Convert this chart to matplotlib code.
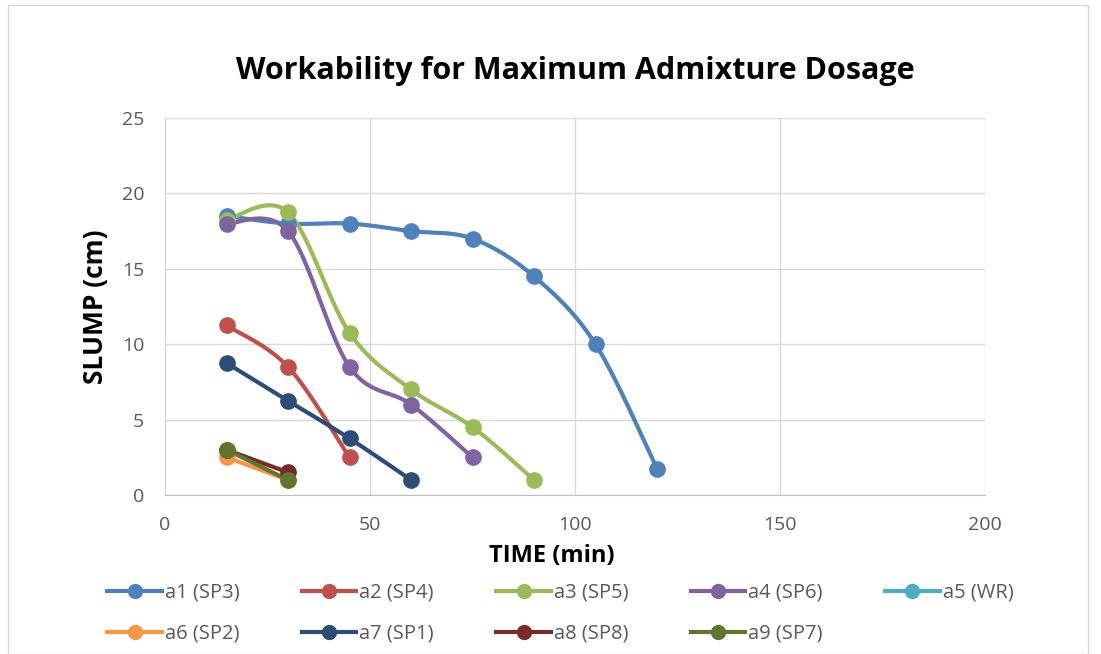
import numpy as np
import matplotlib
matplotlib.use('Agg')
import matplotlib.pyplot as plt
from matplotlib.patches import Rectangle

plt.rcParams['font.family'] = ['Open Sans', 'DejaVu Sans']

labels = ['a1 (SP3)', 'a2 (SP4)', 'a3 (SP5)', 'a4 (SP6)', 'a5 (WR)',
          'a6 (SP2)', 'a7 (SP1)', 'a8 (SP8)', 'a9 (SP7)']
colors = ['#4F81BD', '#C0504D', '#9BBB59', '#8064A2', '#4BACC6',
          '#F79646', '#2C4D75', '#772C2A', '#5F7530']

a1_t = [15, 30, 45, 60, 75, 90, 105, 120]
a1_s = [18.5, 18, 18, 17.5, 17, 14.5, 10, 1.75]
a2_t = [15, 30, 45]
a2_s = [11.25, 8.5, 2.5]
a3_t = [15, 30, 45, 60, 75, 90]
a3_s = [18.25, 18.75, 10.75, 7, 4.5, 1]
a4_t = [15, 30, 45, 60, 75]
a4_s = [18, 17.5, 8.5, 6, 2.5]
a5_t = []
a5_s = []
a6_t = [15, 30]
a6_s = [2.5, 1]
a7_t = [15, 30, 45, 60]
a7_s = [8.75, 6.25, 3.75, 1]
a8_t = [15, 30]
a8_s = [3, 1.5]
a9_t = [15, 30]
a9_s = [3, 1]

series = [(a1_t, a1_s), (a2_t, a2_s), (a3_t, a3_s), (a4_t, a4_s), (a5_t, a5_s),
          (a6_t, a6_s), (a7_t, a7_s), (a8_t, a8_s), (a9_t, a9_s)]


# Excel-like smoothed line (Catmull-Rom style bezier)
def smooth(x, y, n=30):
    x = np.asarray(x, float)
    y = np.asarray(y, float)
    if len(x) < 3:
        return x, y
    px = np.concatenate([[x[0]], x, [x[-1]]])
    py = np.concatenate([[y[0]], y, [y[-1]]])
    xs, ys = [], []
    t = np.linspace(0, 1, n)
    for i in range(1, len(px) - 2):
        p0 = np.array([px[i], py[i]])
        p3 = np.array([px[i + 1], py[i + 1]])
        p1 = p0 + (np.array([px[i + 1], py[i + 1]]) - np.array([px[i - 1], py[i - 1]])) / 6
        p2 = p3 - (np.array([px[i + 2], py[i + 2]]) - np.array([px[i], py[i]])) / 6
        b = ((1 - t) ** 3)[:, None] * p0 + (3 * (1 - t) ** 2 * t)[:, None] * p1 \
            + (3 * (1 - t) * t ** 2)[:, None] * p2 + (t ** 3)[:, None] * p3
        xs.extend(b[:, 0])
        ys.extend(b[:, 1])
    return np.array(xs), np.array(ys)


fig = plt.figure(figsize=(11.01, 6.54), dpi=100)
ax = fig.add_axes([165 / 1101, 1 - 495 / 654, 820 / 1101, 377 / 654])

handles = []
for (t, s), lab, c in zip(series, labels, colors):
    sx, sy = smooth(t, s)
    ax.plot(sx, sy, color=c, lw=3, solid_capstyle='round', zorder=3)
    ax.plot(t, s, 'o', color=c, ms=11, zorder=4)
    h, = ax.plot([], [], '-o', color=c, lw=3, ms=10, label=lab)
    handles.append(h)

ax.set_xlim(0, 200)
ax.set_ylim(0, 25)
ax.set_xticks(np.arange(0, 201, 50))
ax.set_yticks(np.arange(0, 26, 5))
ax.grid(True, color='#D9D9D9', lw=1)
ax.set_axisbelow(True)
for sp in ['top', 'right']:
    ax.spines[sp].set_visible(False)
ax.spines['left'].set_color('#D9D9D9')
ax.spines['bottom'].set_color('#BFBFBF')
ax.tick_params(length=0, labelsize=14, labelcolor='#595959', pad=15)

ax.set_title('Workability for Maximum Admixture Dosage', fontsize=22,
             fontweight='bold', pad=28)
ax.set_xlabel('TIME (min)', fontsize=17, fontweight='bold', va='center')
ax.xaxis.set_label_coords(0.472, -0.162)
ax.set_ylabel('SLUMP (cm)', fontsize=19, fontweight='bold', va='center')
ax.yaxis.set_label_coords(-0.085, 0.5)

# legend filled row by row: a1..a5 then a6..a9
order = [0, 5, 1, 6, 2, 7, 3, 8, 4]
leg = fig.legend([handles[i] for i in order], [labels[i] for i in order],
                 loc='lower center', ncol=5, bbox_to_anchor=(0.509, -0.012),
                 frameon=False, fontsize=14.5, handlelength=2.7,
                 columnspacing=3.1, labelspacing=1.05, handletextpad=0.15)
for txt in leg.get_texts():
    txt.set_color('#595959')

fig.patches.append(Rectangle((8 / 1101, 0), 1080 / 1101, 1 - 5 / 654,
                             transform=fig.transFigure, fill=False,
                             edgecolor='#D9D9D9', lw=1))

fig.savefig('out.png', dpi=100)
